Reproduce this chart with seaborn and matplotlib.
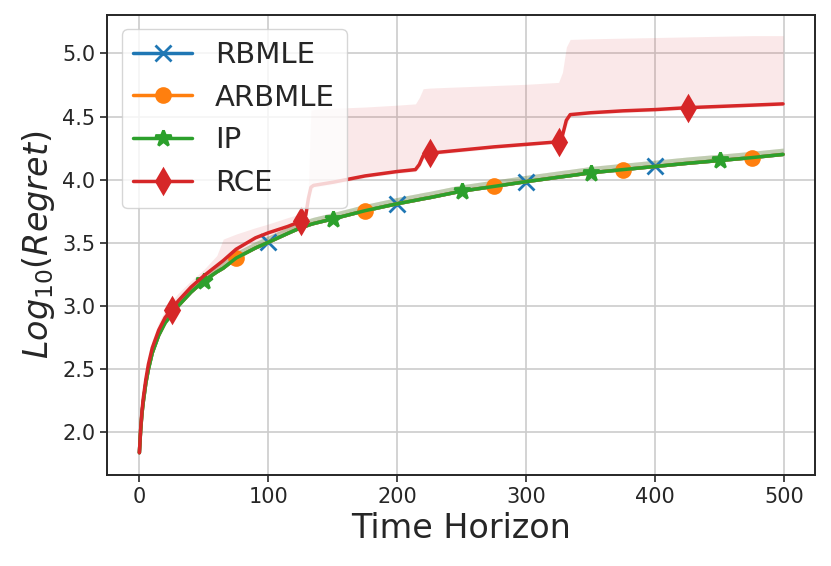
import matplotlib
matplotlib.use("Agg")
import matplotlib.pyplot as plt
import seaborn as sns

T = [0, 1, 2, 3, 5, 7, 10, 15, 20, 25,
     30, 40, 50, 60, 65, 75, 90, 100, 115, 125,
     129, 131, 133, 135, 150, 175, 200, 214, 217, 220,
     225, 250, 275, 300, 325, 328, 331, 334, 350, 375,
     400, 425, 450, 475, 499]

# log10 regret, mean curves
rbmle = [1.84, 2.02, 2.15, 2.24, 2.39, 2.50, 2.63, 2.77, 2.87, 2.94,
         3.00, 3.11, 3.20, 3.27, 3.30, 3.38, 3.46, 3.505, 3.575, 3.62,
         3.633, 3.64, 3.647, 3.653, 3.69, 3.755, 3.81, 3.837, 3.843, 3.849,
         3.858, 3.91, 3.947, 3.985, 4.02, 4.024, 4.028, 4.032, 4.055, 4.08,
         4.105, 4.13, 4.152, 4.175, 4.20]
arbmle = [1.84, 2.02, 2.15, 2.24, 2.39, 2.50, 2.63, 2.77, 2.87, 2.94,
          3.00, 3.11, 3.20, 3.27, 3.30, 3.38, 3.46, 3.505, 3.575, 3.62,
          3.633, 3.64, 3.647, 3.653, 3.69, 3.755, 3.81, 3.837, 3.843, 3.849,
          3.858, 3.91, 3.947, 3.985, 4.02, 4.024, 4.028, 4.032, 4.055, 4.08,
          4.105, 4.13, 4.152, 4.175, 4.20]
ip = [1.84, 2.02, 2.15, 2.24, 2.39, 2.50, 2.63, 2.77, 2.87, 2.93,
      3.00, 3.11, 3.20, 3.27, 3.30, 3.38, 3.46, 3.505, 3.575, 3.62,
      3.633, 3.64, 3.647, 3.653, 3.69, 3.755, 3.81, 3.837, 3.843, 3.849,
      3.858, 3.91, 3.947, 3.985, 4.02, 4.024, 4.028, 4.032, 4.055, 4.08,
      4.105, 4.13, 4.152, 4.175, 4.20]
rce = [1.84, 2.03, 2.17, 2.27, 2.42, 2.54, 2.67, 2.81, 2.91, 2.97,
       3.04, 3.15, 3.24, 3.32, 3.36, 3.45, 3.54, 3.58, 3.63, 3.67,
       3.72, 3.85, 3.94, 3.955, 3.98, 4.03, 4.065, 4.08, 4.12, 4.19,
       4.21, 4.235, 4.26, 4.28, 4.30, 4.35, 4.47, 4.515, 4.53, 4.545,
       4.555, 4.57, 4.58, 4.59, 4.60]

# spread bands (the three likelihood methods overlap, so they share one)
mle_lo = [1.83, 2.00, 2.13, 2.22, 2.37, 2.48, 2.61, 2.75, 2.85, 2.92,
          2.99, 3.10, 3.19, 3.26, 3.29, 3.37, 3.45, 3.495, 3.565, 3.61,
          3.623, 3.63, 3.637, 3.643, 3.68, 3.745, 3.80, 3.827, 3.833, 3.839,
          3.848, 3.90, 3.937, 3.975, 4.01, 4.014, 4.018, 4.022, 4.045, 4.07,
          4.095, 4.12, 4.142, 4.165, 4.19]
mle_hi = [1.88, 2.09, 2.23, 2.32, 2.47, 2.58, 2.71, 2.84, 2.94, 3.00,
          3.06, 3.17, 3.255, 3.32, 3.355, 3.43, 3.51, 3.555, 3.625, 3.67,
          3.683, 3.69, 3.697, 3.703, 3.74, 3.805, 3.86, 3.887, 3.893, 3.899,
          3.908, 3.96, 3.997, 4.035, 4.07, 4.074, 4.078, 4.082, 4.105, 4.13,
          4.155, 4.18, 4.202, 4.225, 4.25]
rce_lo = [1.83, 2.01, 2.14, 2.24, 2.39, 2.51, 2.64, 2.78, 2.88, 2.94,
          3.01, 3.12, 3.21, 3.29, 3.33, 3.42, 3.51, 3.55, 3.60, 3.64,
          3.68, 3.78, 3.90, 3.94, 3.965, 4.015, 4.05, 4.065, 4.09, 4.16,
          4.195, 4.22, 4.245, 4.265, 4.29, 4.32, 4.42, 4.50, 4.515, 4.53,
          4.54, 4.555, 4.565, 4.575, 4.585]
rce_hi = [1.86, 2.07, 2.22, 2.32, 2.48, 2.60, 2.73, 2.87, 2.97, 3.04,
          3.10, 3.20, 3.29, 3.40, 3.53, 3.57, 3.62, 3.65, 3.70, 3.73,
          3.75, 3.95, 4.55, 4.555, 4.565, 4.575, 4.59, 4.60, 4.65, 4.72,
          4.725, 4.735, 4.745, 4.755, 4.77, 4.85, 5.05, 5.11, 5.115, 5.12,
          5.125, 5.13, 5.135, 5.14, 5.14]

# where each method shows its marker
rbmle_marks = [100, 200, 300, 400]
arbmle_marks = [75, 175, 275, 375, 475]
ip_marks = [50, 150, 250, 350, 450]
rce_marks = [25, 125, 225, 325, 425]

sns.set_style("ticks", {"axes.grid": True})
plt.rcParams["font.family"] = ["DejaVu Sans"]
plt.rcParams["grid.linewidth"] = 1.2

fig = plt.figure(figsize=(8.31, 5.66), dpi=100)
ax = fig.add_axes([0.129, 0.161, 0.852, 0.813])

series = [
    ("RBMLE", rbmle, mle_lo, mle_hi, "#1f77b4", "x", 11, rbmle_marks, 0.17),
    ("ARBMLE", arbmle, mle_lo, mle_hi, "#ff7f0e", "o", 10, arbmle_marks, 0.17),
    ("IP", ip, mle_lo, mle_hi, "#2ca02c", "*", 12, ip_marks, 0.17),
    ("RCE", rce, rce_lo, rce_hi, "#d62728", "d", 12, rce_marks, 0.1),
]

for name, y, lo, hi, col, mk, ms, marks, a in series:
    idx = [T.index(m) for m in marks]
    sns.lineplot(x=T, y=y, ax=ax, color=col, label=name, linewidth=2.5,
                 marker=mk, markersize=ms, markevery=idx, markeredgewidth=2,
                 markeredgecolor=col)
    ax.fill_between(T, lo, hi, color=col, alpha=a, linewidth=0)

ax.set_yticks([2.0, 2.5, 3.0, 3.5, 4.0, 4.5, 5.0])
ax.set_xticks([0, 100, 200, 300, 400, 500])
ax.tick_params(labelsize=15, length=5, width=1.2)
for s in ax.spines.values():
    s.set_linewidth(1.4)
ax.set_xlabel("Time Horizon", fontsize=24)
ax.set_ylabel(r"$Log_{10}(Regret)$", fontsize=24)
ax.legend(loc="upper left", fontsize=21)

fig.savefig("out.png", dpi=100)
